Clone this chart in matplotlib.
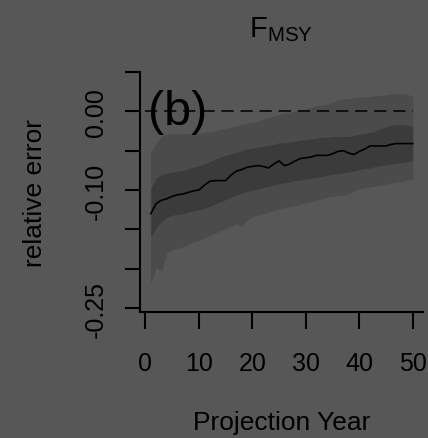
import numpy as np
import matplotlib
matplotlib.use("Agg")
import matplotlib.pyplot as plt

## Datos (error relativo de F_MSY por anio de proyeccion)

anios = np.arange(1, 51)

mediana = [-0.130, -0.117, -0.113, -0.111, -0.108, -0.106, -0.105, -0.103, -0.101, -0.100,
           -0.094, -0.089, -0.088, -0.088, -0.088, -0.081, -0.076, -0.074, -0.071, -0.070,
           -0.069, -0.070, -0.072, -0.067, -0.063, -0.069, -0.067, -0.063, -0.060, -0.059,
           -0.058, -0.056, -0.056, -0.056, -0.054, -0.051, -0.050, -0.053, -0.055, -0.051,
           -0.048, -0.044, -0.044, -0.044, -0.044, -0.042, -0.041, -0.041, -0.041, -0.041]

interno_sup = [-0.098, -0.085, -0.080, -0.079, -0.077, -0.076, -0.075, -0.073, -0.071, -0.069,
               -0.067, -0.064, -0.061, -0.058, -0.056, -0.054, -0.052, -0.050, -0.048, -0.047,
               -0.0455, -0.0445, -0.043, -0.042, -0.040, -0.040, -0.039, -0.038, -0.037, -0.036,
               -0.035, -0.034, -0.033, -0.033, -0.032, -0.032, -0.032, -0.032, -0.031, -0.029,
               -0.028, -0.027, -0.025, -0.022, -0.020, -0.018, -0.017, -0.017, -0.018, -0.019]

interno_inf = [-0.160, -0.148, -0.140, -0.135, -0.132, -0.131, -0.130, -0.128, -0.126, -0.125,
               -0.123, -0.121, -0.118, -0.115, -0.112, -0.109, -0.106, -0.104, -0.102, -0.100,
               -0.099, -0.097, -0.095, -0.094, -0.092, -0.091, -0.090, -0.088, -0.087, -0.086,
               -0.085, -0.084, -0.083, -0.081, -0.080, -0.079, -0.078, -0.077, -0.076, -0.074,
               -0.073, -0.072, -0.070, -0.069, -0.068, -0.067, -0.066, -0.065, -0.064, -0.063]

externo_sup = [-0.052, -0.040, -0.032, -0.029, -0.028, -0.028, -0.028, -0.028, -0.028, -0.028,
               -0.027, -0.026, -0.025, -0.023, -0.022, -0.020, -0.019, -0.017, -0.015, -0.014,
               -0.013, -0.010, -0.008, -0.006, -0.004, -0.003, -0.001, 0.000, 0.001, 0.003,
               0.005, 0.007, 0.008, 0.009, 0.011, 0.014, 0.016, 0.016, 0.017, 0.018,
               0.018, 0.019, 0.020, 0.020, 0.021, 0.022, 0.0225, 0.0225, 0.0215, 0.019]

externo_inf = [-0.220, -0.198, -0.203, -0.180, -0.176, -0.174, -0.172, -0.169, -0.166, -0.164,
               -0.161, -0.158, -0.155, -0.152, -0.149, -0.146, -0.143, -0.146, -0.138, -0.134,
               -0.132, -0.130, -0.128, -0.126, -0.124, -0.122, -0.121, -0.120, -0.118, -0.116,
               -0.115, -0.113, -0.111, -0.109, -0.108, -0.107, -0.107, -0.105, -0.101, -0.098,
               -0.097, -0.096, -0.095, -0.094, -0.093, -0.091, -0.090, -0.089, -0.087, -0.086]

x_ticks = [0, 10, 20, 30, 40, 50]
y_ticks = [-0.25, -0.20, -0.15, -0.10, -0.05, 0.00, 0.05]
y_tick_labels = ['-0.25', '', '', '-0.10', '', '0.00', '']

fondo = '#575757'

plt.rcParams['font.family'] = ['Liberation Sans', 'DejaVu Sans']
plt.rcParams['mathtext.fontset'] = 'custom'
plt.rcParams['mathtext.rm'] = 'Liberation Sans'

fig = plt.figure(figsize=(4.28, 4.39), dpi=100, facecolor=fondo)
ax = fig.add_axes([0.327, 0.287, 0.661, 0.547])
ax.set_facecolor(fondo)

ax.fill_between(anios, externo_inf, externo_sup, color='#4b4b4b', linewidth=0)
ax.fill_between(anios, interno_inf, interno_sup, color='#3b3b3b', linewidth=0)
ax.plot(anios, mediana, color='black', lw=1.2)
ax.hlines(0, 0, anios[-1], colors='black', lw=1.1, linestyles=(0, (8, 4.5)))

ax.text(0.5, 0.0, '(b)', fontsize=35, ha='left', va='center', color='black')

ax.set_xlim(-1.03, 51.9)
ax.set_ylim(-0.2548, 0.05)

ax.set_xticks(x_ticks)
ax.set_yticks(y_ticks)
ax.set_yticklabels(y_tick_labels, rotation=90, va='center')

for s in ['top', 'right']:
    ax.spines[s].set_visible(False)
for s in ['left', 'bottom']:
    ax.spines[s].set_linewidth(1.5)

ax.tick_params(axis='x', length=12, width=1.5, pad=16, labelsize=18, colors='black')
ax.tick_params(axis='y', length=11, width=1.5, pad=12, labelsize=18, colors='black')

ax.set_ylabel('relative error', fontsize=19, labelpad=27)
ax.set_xlabel('Projection Year', fontsize=19, labelpad=25)
ax.set_title(r'$\mathrm{F}_{\mathrm{MSY}}$', fontsize=21, pad=26)

fig.savefig('out.png', dpi=100, facecolor=fondo)
